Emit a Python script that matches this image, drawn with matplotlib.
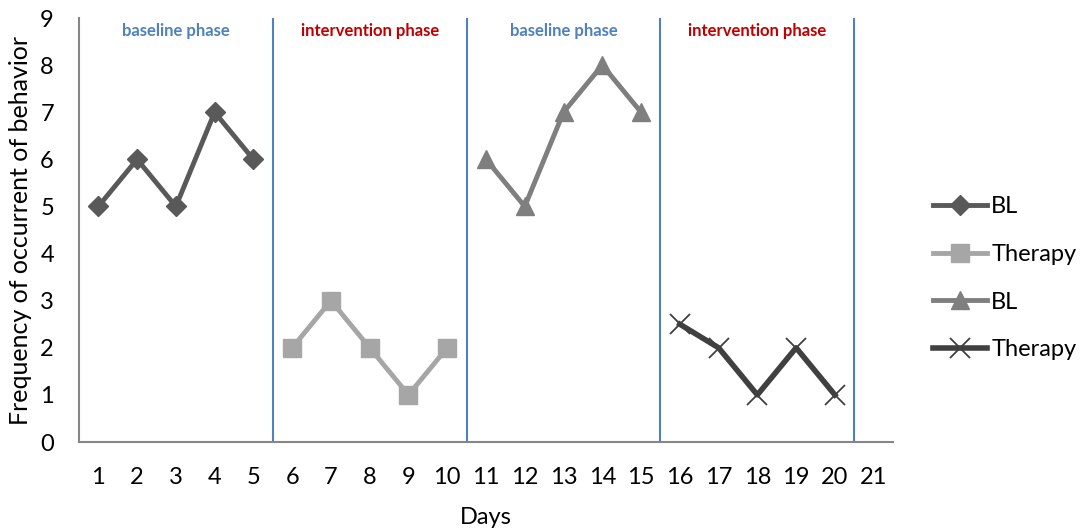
import matplotlib.pyplot as plt

# data
days = list(range(1, 22))
bl1_days = [1, 2, 3, 4, 5]
bl1_vals = [5, 6, 5, 7, 6]
th1_days = [6, 7, 8, 9, 10]
th1_vals = [2, 3, 2, 1, 2]
bl2_days = [11, 12, 13, 14, 15]
bl2_vals = [6, 5, 7, 8, 7]
th2_days = [16, 17, 18, 19, 20]
th2_vals = [2.5, 2, 1, 2, 1]
phase_bounds = [5.5, 10.5, 15.5, 20.5]
phase_names = ["baseline phase", "intervention phase", "baseline phase", "intervention phase"]
phase_centers = [3, 8, 13, 18]

plt.rcParams['font.family'] = ['Lato', 'DejaVu Sans']
font_size = 17

fig = plt.figure(figsize=(10.83, 5.31), dpi=100)
ax = fig.add_axes([0.0729, 0.1676, 0.7517, 0.7985])

ax.plot(bl1_days, bl1_vals, color="#595959", linewidth=3.5, marker="D", markersize=10, label="BL")
ax.plot(th1_days, th1_vals, color="#A6A6A6", linewidth=3.5, marker="s", markersize=13, label="Therapy")
ax.plot(bl2_days, bl2_vals, color="#7F7F7F", linewidth=3.5, marker="^", markersize=13, label="BL")
ax.plot(th2_days, th2_vals, color="#404040", linewidth=4, marker="x", markersize=14,
        markeredgewidth=1.3, label="Therapy")

for b in phase_bounds:
    ax.plot([b, b], [0, 9], color="#4F81BD", linewidth=1.5)

for c, name in zip(phase_centers, phase_names):
    col = "#4F81BD" if name.startswith("baseline") else "#C00000"
    ax.text(c, 8.72, name, color=col, fontsize=12, fontweight="bold", ha="center", va="center")

ax.set_xlim(0.5, 21.5)
ax.set_ylim(0, 9)
ax.set_xticks(days)
ax.set_yticks(range(0, 10))
ax.tick_params(axis="both", length=0, labelsize=font_size, colors="black")
ax.tick_params(axis="x", pad=18)
ax.tick_params(axis="y", pad=18)
ax.spines["top"].set_visible(False)
ax.spines["right"].set_visible(False)
ax.spines["left"].set_color("#868686")
ax.spines["bottom"].set_color("#868686")
ax.spines["left"].set_linewidth(1.5)
ax.spines["bottom"].set_linewidth(1.5)

ax.set_xlabel("Days", fontsize=font_size, labelpad=14)
ax.set_ylabel("Frequency of occurrent of behavior", fontsize=font_size + 1, labelpad=6)

ax.legend(loc="center left", bbox_to_anchor=(0.8615, 0.476), bbox_transform=fig.transFigure,
          frameon=False, fontsize=font_size, borderaxespad=0, borderpad=0,
          handlelength=2.3, handletextpad=0.17, labelspacing=1.13)

plt.savefig("out.png", dpi=100)
